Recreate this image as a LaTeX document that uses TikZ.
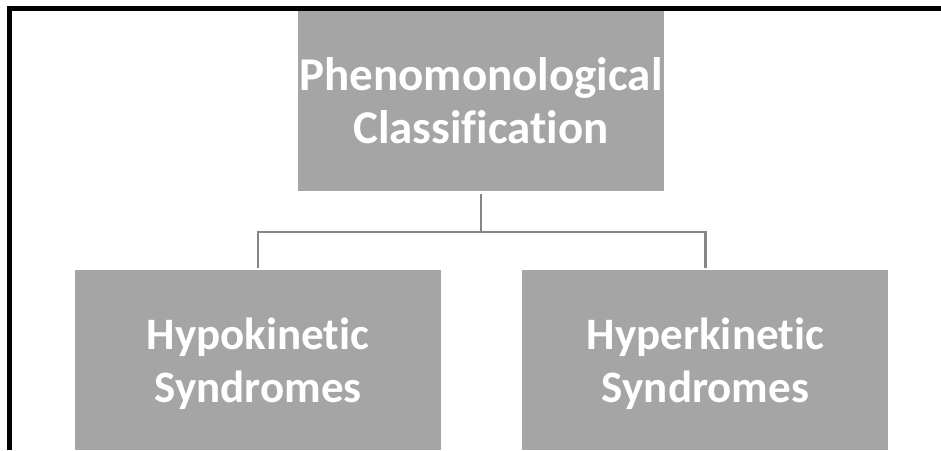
\documentclass[tikz,border=0pt]{standalone}
\usepackage{fontspec}
\setmainfont{Carlito}[Ligatures=NoCommon]
\usepackage{xcolor}
\usepackage{tikz}
\usetikzlibrary{positioning}
\definecolor{boxgray}{HTML}{A5A5A5}
\definecolor{linkgray}{HTML}{868686}
\tikzstyle{box} = [rectangle, minimum width=366pt, minimum height=180pt, inner sep=0pt, fill=boxgray, text=white, align=center, text depth=0pt, font=\bfseries\fontsize{45}{53}\selectfont]
\tikzstyle{topbox} = [box, font=\bfseries\fontsize{47}{53}\selectfont]
\tikzstyle{link} = [draw=linkgray, line width=2.2pt, shorten <=3pt, shorten >=2pt]

\begin{document}
\begin{tikzpicture}[x=1pt, y=1pt]
		\useasboundingbox (0,0) rectangle (941,-450);
		\draw [line width=5pt] (9.5,-450) -- (9.5,-8.5) -- (941,-8.5);
		\node (Top)[topbox] at (481,-101) {Phenomonological\\Classification};
		\node (Hypo)[box] at (258,-360) {Hypokinetic\\Syndromes};
		\node (Hyper)[box, right = 81pt of Hypo] {Hyperkinetic\\Syndromes};
		\draw [link] (Top.south) -- ++(0,-40.5) -| (Hypo.north);
		\draw [link] (Top.south) -- ++(0,-40.5) -| (Hyper.north);
	\end{tikzpicture}
\end{document}
